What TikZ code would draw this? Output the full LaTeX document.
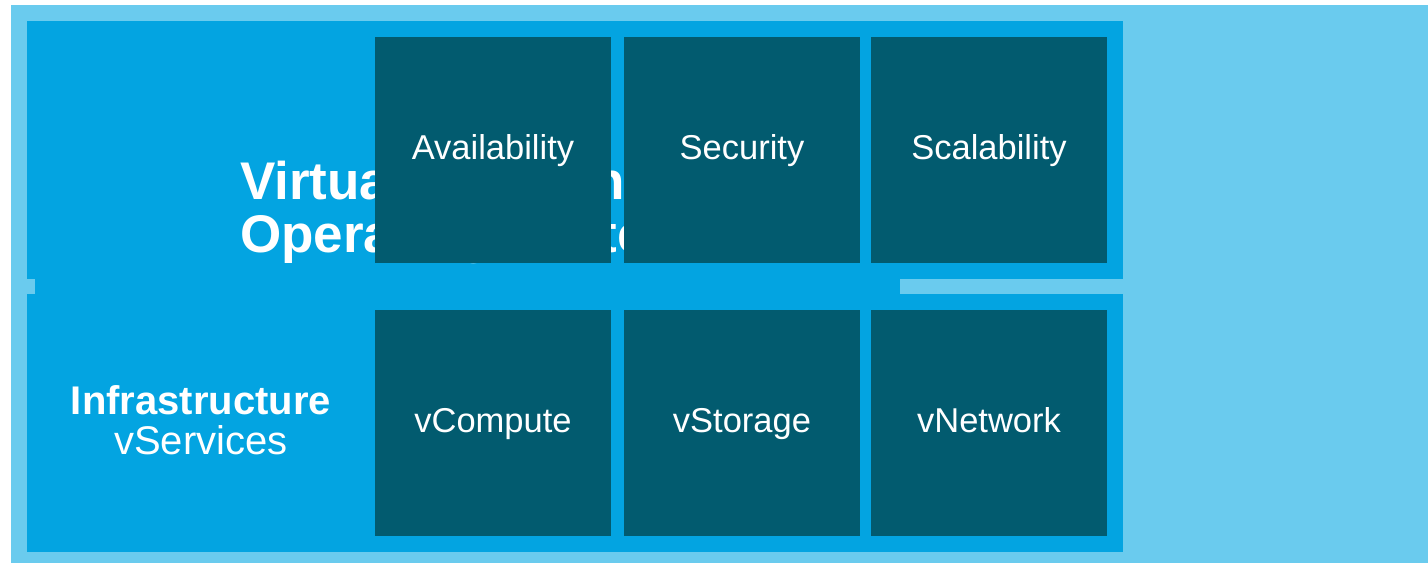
\documentclass[tikz,border=0pt]{standalone}
\usepackage{fontspec}
\setmainfont{Liberation Sans}
\definecolor{lightbg}{HTML}{6ACBEE}
\definecolor{midblue}{HTML}{03A4E1}
\definecolor{darkbox}{HTML}{025B6F}
\tikzset{
  tile/.style={fill=darkbox, draw=none, minimum width=236pt, minimum height=226pt, inner sep=0pt,
    text=white, font=\fontsize{34.5}{36}\selectfont, text height=24pt, text depth=5pt},
  titletext/.style={text=white, font=\fontsize{53}{54}\selectfont\bfseries, inner sep=0pt, anchor=base west},
  sidetext/.style={text=white, inner sep=0pt, anchor=base},
}
\begin{document}
\begin{tikzpicture}[x=1pt, y=-1pt]
\useasboundingbox (0,0) rectangle (1428,563);
\fill[white] (0,0) rectangle (1428,563);
\fill[lightbg] (11,5) rectangle (1428,563);
% panels
\fill[midblue] (27,21) rectangle (1123,279);
\fill[midblue] (27,294) rectangle (1123,552);
\fill[midblue] (35,278) rectangle (900,295);
% title (partly hidden behind tiles)
\node[titletext] (title1) at (240,199) {Virtual Datacenter};
\node[titletext] (title2) at (240,252) {Operating System};
% side label
\node[sidetext, font=\fontsize{40}{42}\selectfont\bfseries] (infra) at (201,414) {Infrastructure};
\node[sidetext, font=\fontsize{40}{42}\selectfont] (vserv) at (201,454) {vServices};
% tiles
\node[tile] (avail) at (493,150) {Availability};
\node[tile] (secur) at (742,150) {Security};
\node[tile] (scal) at (989,150) {Scalability};
\node[tile] (vcomp) at (493,423) {vCompute};
\node[tile] (vstor) at (742,423) {vStorage};
\node[tile] (vnet) at (989,423) {vNetwork};
\end{tikzpicture}
\end{document}
